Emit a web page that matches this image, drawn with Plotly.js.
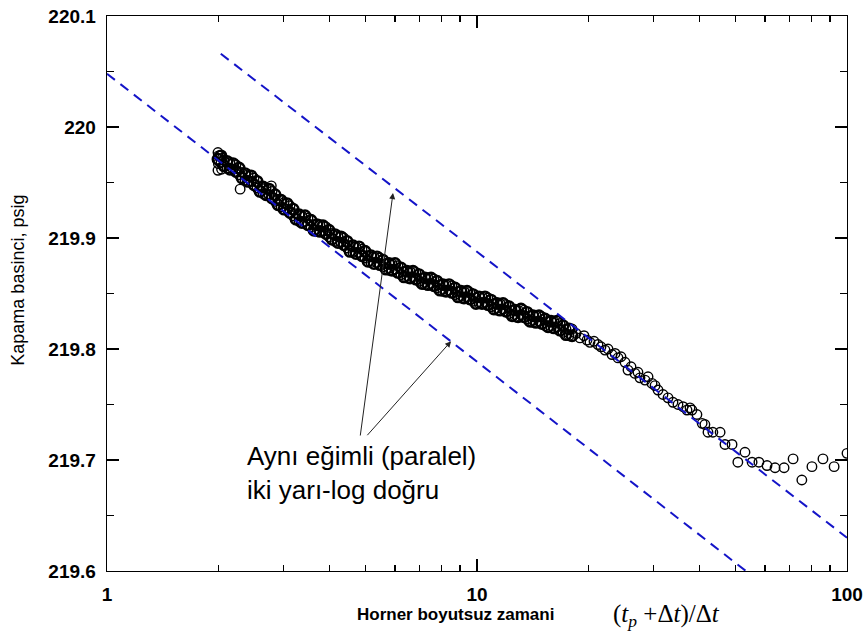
<!DOCTYPE html>
<html>
<head>
<meta charset="utf-8">
<script src="https://cdn.plot.ly/plotly-3.0.1.min.js"></script>
<style>
  html, body { margin: 0; padding: 0; background: #ffffff; }
  #chart { width: 864px; height: 632px; }
</style>
</head>
<body>
<div id="chart"></div>
<script>
// Horner time (tp+dt)/dt and shut-in pressure (psig)
const hornerTime = [
  2.00, 2.02, 2.00, 2.05, 2.04, 1.995, 2.29, 2.78,
  1.995, 2.033, 2.072, 2.110, 2.150, 2.191, 2.232, 2.275, 2.317, 2.361,
  2.406, 2.451, 2.497, 2.544, 2.592, 2.641, 2.691, 2.741, 2.793, 2.846,
  2.899, 2.954, 3.010, 3.066, 3.124, 3.183, 3.243, 3.304, 3.365, 3.429,
  3.493, 3.559, 3.626, 3.694, 3.764, 3.835, 3.907, 3.981, 4.056, 4.132,
  4.210, 4.290, 4.370, 4.453, 4.537, 4.622, 4.710, 4.798, 4.889, 4.981,
  5.075, 5.170, 5.268, 5.367, 5.468, 5.571, 5.676, 5.783, 5.892, 6.003,
  6.116, 6.231, 6.349, 6.468, 6.590, 6.714, 6.841, 6.970, 7.101, 7.235,
  7.371, 7.510, 7.652, 7.796, 7.943, 8.093, 8.245, 8.401, 8.559, 8.721,
  8.885, 9.053, 9.223, 9.397, 9.574, 9.755, 9.938, 10.125, 10.316, 10.51,
  10.71, 10.91, 11.11, 11.33, 11.54, 11.76, 11.98, 12.21, 12.44, 12.67,
  12.91, 13.15, 13.40, 13.65, 13.91, 14.17, 14.44, 14.71, 14.99, 15.27,
  15.56, 15.85, 16.15, 16.46, 16.77, 17.08, 17.40, 17.73, 18.07,
  18.52, 18.98, 19.46, 19.83, 20.20, 20.71, 21.23, 21.63, 22.18, 22.60,
  23.17, 23.61, 24.05, 24.50, 25.12, 25.59, 26.08, 26.73, 27.23, 27.57,
  28.45, 28.99, 29.72, 30.28, 30.85, 31.82, 32.83, 33.86, 34.93, 36.05,
  36.95, 37.65, 38.1, 39.3, 40.6, 41.3, 42.1, 43.4, 45.4, 46.8,
  48.9, 50.7, 53.0, 55.4, 57.8, 60.8, 63.9, 67.6, 71.5, 75.5,
  80.4, 86.1, 92.3, 100.0
];
const pressure = [
  219.974, 219.974, 219.967, 219.972, 219.962, 219.961, 219.944, 219.947,
  219.977, 219.968, 219.970, 219.963, 219.968, 219.962, 219.966, 219.957, 219.959, 219.952,
  219.957, 219.951, 219.954, 219.945, 219.947, 219.940, 219.945, 219.939, 219.942, 219.933,
  219.935, 219.928, 219.932, 219.926, 219.929, 219.920, 219.922, 219.915, 219.920, 219.915,
  219.918, 219.910, 219.912, 219.906, 219.912, 219.906, 219.910, 219.901, 219.904, 219.897,
  219.902, 219.896, 219.900, 219.891, 219.893, 219.887, 219.892, 219.887, 219.890, 219.882,
  219.884, 219.878, 219.883, 219.878, 219.882, 219.874, 219.877, 219.871, 219.877, 219.872,
  219.875, 219.867, 219.870, 219.864, 219.870, 219.865, 219.869, 219.861, 219.864, 219.858,
  219.864, 219.859, 219.863, 219.855, 219.858, 219.852, 219.858, 219.853, 219.857, 219.849,
  219.852, 219.846, 219.852, 219.847, 219.851, 219.843, 219.846, 219.841, 219.847, 219.842,
  219.846, 219.838, 219.841, 219.835, 219.841, 219.836, 219.840, 219.832, 219.835, 219.829,
  219.835, 219.831, 219.835, 219.827, 219.830, 219.824, 219.830, 219.825, 219.829, 219.821,
  219.825, 219.819, 219.825, 219.820, 219.823, 219.815, 219.818, 219.812, 219.818,
  219.814, 219.810, 219.812, 219.808, 219.806, 219.807, 219.804, 219.802, 219.799, 219.800,
  219.795, 219.796, 219.792, 219.793, 219.788, 219.781, 219.784, 219.778, 219.779, 219.774,
  219.772, 219.775, 219.769, 219.767, 219.763, 219.759, 219.756, 219.752, 219.750, 219.748,
  219.745, 219.747, 219.745, 219.741, 219.733, 219.732, 219.725, 219.725, 219.725, 219.714,
  219.714, 219.698, 219.707, 219.698, 219.698, 219.695, 219.693, 219.693, 219.701, 219.682,
  219.694, 219.701, 219.694, 219.706
];

// Second layer of the dense early-time band (overlapping readings)
const bandTime = [
  1.995, 2.033, 2.072, 2.110, 2.150, 2.191, 2.232, 2.275, 2.317, 2.361,
  2.406, 2.451, 2.497, 2.544, 2.592, 2.641, 2.691, 2.741, 2.793, 2.846,
  2.899, 2.954, 3.010, 3.066, 3.124, 3.183, 3.243, 3.304, 3.365, 3.429,
  3.493, 3.559, 3.626, 3.694, 3.764, 3.835, 3.907, 3.981, 4.056, 4.132,
  4.210, 4.290, 4.370, 4.453, 4.537, 4.622, 4.710, 4.798, 4.889, 4.981,
  5.075, 5.170, 5.268, 5.367, 5.468, 5.571, 5.676, 5.783, 5.892, 6.003,
  6.116, 6.231, 6.349, 6.468, 6.590, 6.714, 6.841, 6.970, 7.101, 7.235,
  7.371, 7.510, 7.652, 7.796, 7.943, 8.093, 8.245, 8.401, 8.559, 8.721,
  8.885, 9.053, 9.223, 9.397, 9.574, 9.755, 9.938, 10.125, 10.316, 10.51,
  10.71, 10.91, 11.11, 11.33, 11.54, 11.76, 11.98, 12.21, 12.44, 12.67,
  12.91, 13.15, 13.40, 13.65, 13.91, 14.17, 14.44, 14.71, 14.99, 15.27,
  15.56, 15.85, 16.15, 16.46, 16.77, 17.08, 17.40, 17.73, 18.07
];
const bandPressure = [
  219.971, 219.974, 219.965, 219.969, 219.962, 219.967, 219.960, 219.963, 219.954, 219.958,
  219.951, 219.956, 219.948, 219.951, 219.942, 219.946, 219.939, 219.944, 219.936, 219.939,
  219.930, 219.934, 219.926, 219.931, 219.923, 219.926, 219.917, 219.921, 219.914, 219.920,
  219.912, 219.916, 219.907, 219.912, 219.906, 219.911, 219.904, 219.907, 219.899, 219.903,
  219.896, 219.901, 219.894, 219.897, 219.888, 219.893, 219.886, 219.892, 219.884, 219.888,
  219.879, 219.884, 219.877, 219.883, 219.876, 219.880, 219.872, 219.877, 219.871, 219.877,
  219.869, 219.873, 219.865, 219.870, 219.864, 219.870, 219.863, 219.867, 219.859, 219.864,
  219.858, 219.864, 219.857, 219.861, 219.853, 219.858, 219.852, 219.858, 219.851, 219.855,
  219.847, 219.852, 219.846, 219.852, 219.845, 219.849, 219.841, 219.847, 219.841, 219.847,
  219.840, 219.844, 219.836, 219.841, 219.835, 219.841, 219.834, 219.838, 219.830, 219.835,
  219.829, 219.836, 219.829, 219.833, 219.825, 219.830, 219.824, 219.830, 219.823, 219.827,
  219.820, 219.825, 219.819, 219.825, 219.817, 219.821, 219.813, 219.818, 219.812
];

// Two parallel semi-log straight lines (end points)
const lowerLineX = [1, 53.3];
const lowerLineY = [220.048, 219.6];
const upperLineX = [2.03, 100];
const upperLineY = [220.066, 219.630];

// Tick labels
const yTickVals = [219.6, 219.7, 219.8, 219.9, 220.0, 220.1];
const yTickText = ['219.6', '219.7', '219.8', '219.9', '220', '220.1'];
const xTickVals = [1, 10, 100];
const xTickText = ['1', '10', '100'];

const lineColor = '#1414c8';

const traces = [
  {
    x: bandTime, y: bandPressure, type: 'scatter', mode: 'markers',
    marker: { symbol: 'circle-open', size: 10.5, color: '#000000', line: { width: 2.4, color: '#000000' } },
    showlegend: false, hoverinfo: 'x+y'
  },
  {
    x: hornerTime, y: pressure, type: 'scatter', mode: 'markers',
    marker: { symbol: 'circle-open', size: 9.5, color: '#000000', line: { width: 1.4, color: '#000000' } },
    showlegend: false, hoverinfo: 'x+y'
  },
  {
    x: lowerLineX, y: lowerLineY, type: 'scatter', mode: 'lines',
    line: { color: lineColor, width: 2, dash: '10px,7px' }, showlegend: false
  },
  {
    x: upperLineX, y: upperLineY, type: 'scatter', mode: 'lines',
    line: { color: lineColor, width: 2, dash: '10px,7px' }, showlegend: false
  }
];

const tickFont = { family: 'Liberation Sans, Arial, sans-serif', size: 19, color: '#000000', weight: 'bold' };

const layout = {
  width: 864, height: 632,
  margin: { l: 107, r: 17, t: 16, b: 61 },
  paper_bgcolor: '#ffffff', plot_bgcolor: '#ffffff',
  showlegend: false,
  xaxis: {
    type: 'log', range: [0, 2],
    tickmode: 'array', tickvals: xTickVals, ticktext: xTickText,
    ticks: 'inside', ticklen: 12, tickwidth: 1.2, tickcolor: '#000000',
    minor: { ticks: 'inside', ticklen: 6, tickwidth: 1.2, tickcolor: '#000000', dtick: 'D1', showgrid: false },
    showline: true, linecolor: '#000000', linewidth: 1.3, mirror: 'ticks',
    showgrid: false, zeroline: false,
    tickfont: tickFont, ticklabelstandoff: 6
  },
  yaxis: {
    range: [219.6, 220.1],
    tickmode: 'array', tickvals: yTickVals, ticktext: yTickText,
    ticks: 'inside', ticklen: 12, tickwidth: 1.2, tickcolor: '#000000',
    minor: { ticks: 'inside', ticklen: 7, tickwidth: 1.2, tickcolor: '#000000', tickmode: 'linear', tick0: 219.6, dtick: 0.05, showgrid: false },
    showline: true, linecolor: '#000000', linewidth: 1.3, mirror: 'ticks',
    showgrid: false, zeroline: false,
    tickfont: tickFont, ticklabelstandoff: 6
  },
  annotations: [
    {
      xref: 'paper', yref: 'paper', x: 0.1868, y: 0.238, xanchor: 'left', yanchor: 'top', align: 'left',
      text: 'Aynı eğimli (paralel)<br>iki yarı-log doğru', showarrow: false,
      font: { family: 'Liberation Sans, Arial, sans-serif', size: 26, color: '#000000' }
    },
    {
      xref: 'x', yref: 'y', axref: 'x', ayref: 'y',
      x: 0.773, y: 219.9405, ax: 0.684, ay: 219.7207,
      showarrow: true, arrowhead: 2, arrowsize: 1.2, arrowwidth: 1, arrowcolor: '#222222', text: ''
    },
    {
      xref: 'x', yref: 'y', axref: 'x', ayref: 'y',
      x: 0.930, y: 219.807, ax: 0.700, ay: 219.721,
      showarrow: true, arrowhead: 2, arrowsize: 1.2, arrowwidth: 1, arrowcolor: '#222222', text: ''
    },
    {
      xref: 'paper', yref: 'paper', x: -0.1196, y: 0.524, xanchor: 'center', yanchor: 'middle',
      text: 'Kapama basinci, psig', textangle: -90, showarrow: false,
      font: { family: 'Liberation Sans, Arial, sans-serif', size: 18, color: '#000000' }
    },
    {
      xref: 'paper', yref: 'paper', x: 0.4704, y: -0.0775, xanchor: 'center', yanchor: 'middle',
      text: '<b>Horner boyutsuz zamani</b>', showarrow: false,
      font: { family: 'Liberation Sans, Arial, sans-serif', size: 17, color: '#000000' }
    },
    {
      xref: 'paper', yref: 'paper', x: 0.7567, y: -0.08, xanchor: 'center', yanchor: 'middle',
      text: '(<i>t</i><sub><i>p</i></sub> +Δ<i>t</i>)/Δ<i>t</i>', showarrow: false,
      font: { family: 'Liberation Serif, Times New Roman, serif', size: 25, color: '#000000' }
    }
  ]
};

Plotly.newPlot('chart', traces, layout, { staticPlot: true, displayModeBar: false });
</script>
</body>
</html>
